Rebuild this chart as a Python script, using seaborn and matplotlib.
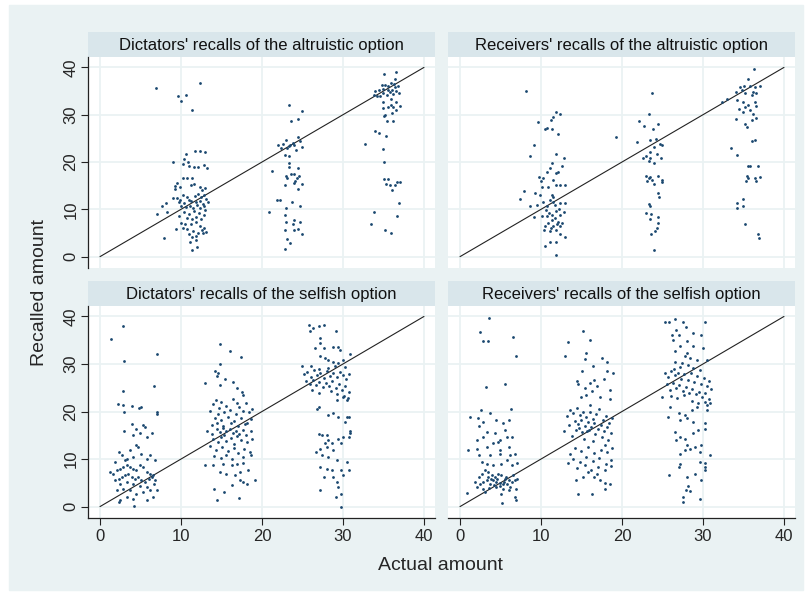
import matplotlib
matplotlib.use("Agg")
import matplotlib.pyplot as plt
from matplotlib.patches import Rectangle
import seaborn as sns
import pandas as pd

# panel titles
titles = [
    "Dictators' recalls of the altruistic option",
    "Receivers' recalls of the altruistic option",
    "Dictators' recalls of the selfish option",
    "Receivers' recalls of the selfish option",
]

# (actual, recalled)
dict_altruistic = [
    (6.9, 35.7), (12.3, 36.8), (9.6, 34.0), (10.6, 34.1), (10.0, 32.9), (11.4, 31.1),
    (11.7, 22.3), (12.4, 22.3), (13.0, 22.1), (10.6, 21.6), (9.0, 20.1), (10.4, 20.6), (10.9, 20.1),
    (10.2, 19.6), (11.6, 19.0), (12.1, 19.0), (11.0, 19.2), (12.8, 19.3), (13.2, 18.8),
    (10.3, 16.6), (10.8, 16.6), (11.3, 16.6), (9.5, 15.5), (9.9, 14.8), (11.2, 15.2), (11.6, 15.3),
    (12.3, 14.8), (13.0, 14.5), (12.6, 14.0), (9.2, 14.3),
    (9.5, 12.4), (9.9, 12.0), (10.2, 13.0), (10.7, 12.6), (11.2, 11.8), (11.7, 12.9), (12.1, 13.3),
    (12.5, 12.7), (12.9, 13.1), (13.1, 12.2), (12.3, 11.7), (11.8, 11.5), (10.4, 11.3), (9.7, 11.6),
    (11.0, 12.0), (12.7, 11.2), (13.3, 11.6),
    (10.0, 10.6), (10.6, 10.4), (11.1, 10.8), (11.5, 10.2), (12.0, 10.9), (12.4, 10.3), (12.9, 10.6),
    (10.4, 9.4), (11.0, 9.0), (11.6, 9.7), (12.2, 9.2), (12.8, 8.8), (10.8, 8.2), (11.9, 8.4),
    (12.5, 8.0), (9.8, 8.6), (11.3, 7.9), (13.0, 9.8),
    (10.0, 7.2), (10.5, 7.0), (11.2, 6.8), (11.8, 7.3), (12.4, 6.5), (12.9, 6.1), (10.7, 5.9),
    (11.5, 5.5), (12.1, 5.0), (12.6, 5.6), (9.4, 5.9), (10.2, 6.0), (11.0, 4.8), (11.9, 4.4),
    (12.7, 4.9), (13.1, 5.3), (11.4, 4.2),
    (11.1, 3.2), (11.4, 1.3), (12.0, 2.1), (11.8, 3.6), (7.9, 3.9),
    (7.0, 9.0), (7.6, 10.6), (8.2, 11.3), (8.3, 9.5), (9.0, 12.5), (9.3, 14.9),
    (23.3, 32.1), (24.9, 30.7), (23.6, 28.6), (24.5, 29.0),
    (22.0, 23.6), (22.6, 23.8), (23.0, 24.6), (23.3, 23.3), (23.8, 24.1), (24.4, 25.2), (24.9, 23.2),
    (24.0, 23.6), (24.2, 22.5), (23.3, 21.3), (22.9, 21.5), (23.5, 23.5), (23.1, 22.9), (24.7, 24.5),
    (22.4, 23.0),
    (23.3, 19.7), (23.3, 19.0), (24.5, 18.7), (23.6, 17.5), (23.9, 17.5), (23.1, 16.6), (24.3, 16.6),
    (24.6, 17.0), (22.9, 15.1), (23.9, 15.5), (24.4, 14.3), (25.0, 15.4), (21.2, 18.0), (23.0, 17.0),
    (24.1, 16.0),
    (21.9, 11.9), (22.2, 11.9), (23.7, 11.6), (23.0, 10.2), (24.7, 10.6),
    (20.9, 9.4), (22.8, 8.8), (23.9, 7.8), (23.0, 7.4), (24.7, 7.4), (23.8, 7.0), (24.5, 5.8),
    (22.9, 5.7), (23.9, 5.6), (25.0, 4.8), (23.1, 3.8), (23.5, 2.8), (22.9, 1.6),
    (35.1, 38.6), (36.6, 39.0), (36.4, 37.6),
    (33.9, 35.0), (34.4, 35.3), (34.9, 35.5), (35.2, 36.2), (35.6, 36.0), (36.0, 35.2), (36.4, 35.8),
    (36.8, 36.0), (35.0, 34.6), (35.4, 34.2), (35.8, 34.8), (36.2, 34.3), (36.6, 35.1), (34.6, 33.9),
    (35.9, 33.4), (36.9, 34.6), (34.2, 34.0), (35.5, 35.3), (36.3, 36.5), (34.8, 36.3), (35.9, 36.8),
    (33.8, 34.2),
    (35.0, 32.7), (35.6, 31.6), (36.2, 31.6), (36.6, 32.6), (35.2, 30.0), (36.0, 30.4), (37.0, 31.9),
    (36.5, 31.0), (35.1, 29.8), (35.9, 32.0), (34.9, 31.4),
    (35.4, 28.6), (36.2, 28.6), (34.0, 26.6), (34.5, 26.1), (35.3, 25.5), (32.7, 23.8), (35.0, 22.7),
    (35.1, 20.1),
    (35.1, 16.4), (35.6, 16.4), (35.3, 15.3), (35.8, 15.1), (36.4, 15.1), (36.7, 15.8), (37.0, 15.8),
    (36.0, 14.0),
    (36.9, 11.3), (33.8, 9.5), (36.7, 8.6), (33.4, 6.9), (35.2, 5.7), (35.9, 5.1),
]

recv_altruistic = [
    (8.1, 35.1), (23.7, 34.5), (19.2, 25.2), (36.3, 39.6), (35.6, 37.6),
    (11.9, 30.5), (12.3, 30.1), (11.5, 29.5), (11.2, 28.8), (9.6, 28.5), (10.5, 26.9), (10.8, 27.2),
    (11.3, 27.0), (12.1, 26.0), (9.1, 23.6), (8.6, 21.3), (11.9, 21.8), (12.8, 20.9),
    (11.3, 19.7), (12.6, 19.2), (11.1, 18.7), (10.7, 17.8), (11.9, 17.6), (12.1, 17.8), (9.8, 16.9),
    (10.3, 16.6), (11.5, 16.2), (10.0, 15.9),
    (11.9, 15.2), (12.3, 15.2), (10.9, 14.8), (13.0, 15.2), (10.1, 14.8), (9.3, 13.4), (9.9, 13.1),
    (11.3, 13.1), (11.5, 12.7), (7.9, 13.8), (7.4, 12.1), (8.7, 10.7), (9.5, 11.0), (10.3, 11.6),
    (11.1, 12.0), (11.5, 11.6), (10.7, 10.6), (11.7, 10.9), (12.3, 11.3), (13.0, 11.3), (12.8, 9.5),
    (9.1, 8.4), (10.7, 8.5), (11.3, 7.8), (11.7, 8.1), (12.1, 7.4), (10.9, 7.1), (10.5, 6.4),
    (11.5, 6.4), (11.9, 5.7), (11.1, 5.5), (10.4, 5.7), (12.3, 6.4), (12.4, 4.8), (13.0, 4.1),
    (11.9, 3.2), (11.1, 3.1), (10.5, 2.3), (11.9, 0.4), (12.3, 8.8), (10.1, 8.5), (12.6, 7.1),
    (11.0, 9.2), (11.8, 9.6), (12.2, 10.0), (10.6, 9.8), (11.4, 8.9), (12.0, 6.9), (11.2, 6.0),
    (23.3, 30.2), (22.1, 28.6), (22.7, 27.6), (24.5, 28.1), (23.8, 27.0), (21.8, 24.3), (23.4, 24.6),
    (24.2, 24.8), (24.7, 23.8), (24.9, 23.6), (23.9, 23.1), (23.5, 22.2), (23.0, 21.3), (24.3, 21.8),
    (24.8, 20.9), (23.3, 20.3), (23.9, 19.7), (23.5, 20.8), (22.6, 20.9),
    (23.0, 17.1), (23.5, 16.9), (24.5, 17.1), (23.3, 16.6), (23.7, 16.2), (24.9, 16.2), (25.0, 15.7),
    (23.1, 15.9), (23.9, 15.4),
    (24.5, 13.4), (24.6, 12.7), (23.3, 11.2), (23.5, 10.8), (23.0, 9.3), (23.6, 9.1), (23.5, 8.0),
    (24.5, 8.4), (24.5, 7.2), (24.3, 6.0), (24.1, 5.5), (23.6, 4.7), (24.0, 1.5),
    (35.1, 36.0), (35.8, 36.0), (36.4, 35.9), (37.0, 36.0), (34.6, 35.9), (34.1, 34.8), (34.8, 35.2),
    (36.2, 34.8), (36.6, 34.5), (35.2, 34.5), (36.0, 34.1), (33.0, 33.4), (32.3, 32.7), (34.2, 33.1),
    (35.0, 32.7), (35.6, 32.0), (36.4, 32.7), (36.6, 31.8), (35.2, 31.6), (34.4, 31.3), (35.8, 30.9),
    (35.0, 30.6), (36.2, 30.2), (34.1, 29.2), (36.6, 29.3), (35.2, 28.1), (35.4, 27.4), (36.0, 28.8),
    (33.4, 22.9), (34.2, 21.5), (36.1, 24.5), (36.4, 24.6), (35.6, 19.2), (35.8, 19.2), (36.8, 19.2),
    (35.4, 17.1), (35.6, 16.6), (35.3, 15.9), (36.4, 16.6), (37.0, 16.8), (36.6, 15.9),
    (34.2, 11.3), (34.2, 10.2), (35.0, 12.2), (35.0, 10.8), (35.2, 6.9), (36.8, 4.8), (36.9, 3.9),
]

dict_selfish = [
    (1.3, 35.3), (2.9, 38.0), (3.0, 30.7), (7.0, 32.2), (6.7, 25.4), (2.9, 24.3), (2.2, 21.6),
    (2.9, 21.4), (3.0, 19.8), (4.0, 21.2), (4.8, 20.7), (5.1, 21.0), (7.0, 19.8), (7.0, 19.5),
    (3.9, 17.4), (5.3, 17.1), (5.6, 16.8), (4.5, 16.4), (3.0, 15.9), (6.4, 15.4), (4.9, 15.4),
    (4.1, 15.0), (5.8, 14.7),
    (2.3, 11.5), (2.7, 10.8), (3.7, 11.9), (4.5, 12.9), (4.7, 12.6), (3.1, 9.7), (4.1, 10.4),
    (5.1, 11.1), (5.8, 10.1), (6.2, 10.8), (6.8, 9.7), (1.9, 9.4), (3.3, 10.1),
    (1.2, 7.3), (1.6, 6.9), (2.1, 7.6), (2.5, 8.0), (2.9, 8.3), (3.3, 8.7), (3.7, 8.3), (4.1, 8.0),
    (4.5, 7.6), (4.9, 8.7), (5.3, 8.3), (5.8, 7.3), (6.2, 6.9), (6.6, 6.6), (1.9, 5.5), (2.3, 5.9),
    (2.7, 6.2), (3.1, 6.6), (3.5, 6.9), (3.9, 6.2), (4.3, 5.9), (4.7, 6.2), (5.1, 5.5), (5.6, 5.1),
    (6.0, 5.9), (6.4, 6.2), (6.8, 5.5), (2.5, 4.8), (3.3, 5.1), (4.1, 4.7), (4.9, 4.4), (5.8, 4.1),
    (6.7, 4.8),
    (2.1, 3.4), (2.9, 3.7), (3.7, 3.4), (4.5, 2.7), (5.3, 3.0), (6.2, 3.4), (7.0, 3.5), (2.5, 1.3),
    (3.3, 2.0), (4.1, 1.6), (5.8, 1.3), (6.6, 2.0), (4.2, 0.1), (2.4, 0.9),
    (14.8, 34.2), (16.0, 32.7), (17.4, 31.5), (14.8, 29.9), (14.2, 28.6), (14.6, 28.1), (14.4, 27.5),
    (13.0, 26.1), (15.4, 26.8), (14.8, 25.6), (16.4, 26.2), (16.9, 24.9), (17.5, 24.2), (17.7, 23.5),
    (13.6, 20.1), (14.0, 21.5), (14.3, 22.4), (14.7, 20.8), (15.0, 22.0), (15.3, 19.8), (15.6, 21.2),
    (16.0, 20.3), (16.4, 22.6), (16.8, 19.5), (17.2, 21.0), (17.6, 20.2), (18.0, 21.8), (18.4, 19.9),
    (18.8, 20.6), (14.2, 18.6), (15.0, 18.2), (15.8, 18.9), (16.6, 18.0), (17.4, 18.7), (18.2, 17.6),
    (13.8, 17.2), (15.2, 17.0), (16.2, 17.5), (17.0, 16.9), (18.6, 18.4), (14.6, 19.4), (16.9, 21.8),
    (13.2, 16.0), (13.8, 15.2), (14.4, 16.3), (14.8, 15.6), (15.2, 16.6), (15.6, 15.8), (16.0, 16.4),
    (16.4, 15.5), (16.8, 16.0), (17.2, 15.2), (17.6, 16.2), (18.0, 15.0), (18.6, 15.8), (14.0, 14.2),
    (14.6, 13.6), (15.0, 14.6), (15.5, 13.8), (16.2, 14.4), (16.6, 13.2), (17.4, 14.0), (18.2, 13.5),
    (18.8, 14.3), (13.6, 12.8), (14.3, 12.0), (15.1, 12.5), (15.8, 11.6), (16.5, 12.3), (17.1, 11.2),
    (17.8, 12.1), (18.5, 11.5), (14.1, 10.6), (14.9, 10.2), (15.6, 10.9), (16.3, 10.0), (17.6, 10.4),
    (18.7, 10.8), (15.3, 15.1), (16.9, 14.8), (14.5, 17.6), (17.9, 17.3),
    (13.0, 8.7), (14.0, 8.7), (15.2, 9.0), (16.3, 8.7), (16.9, 9.0), (17.7, 9.2), (14.8, 7.3),
    (15.6, 6.9), (16.7, 6.6), (17.3, 7.3), (18.3, 7.6), (14.1, 3.6), (14.4, 1.4), (15.3, 3.0),
    (16.3, 4.5), (17.2, 1.9), (17.7, 5.1), (18.1, 4.8), (19.1, 5.6), (17.3, 5.6),
    (25.8, 38.2), (26.3, 37.6), (27.0, 38.0), (27.7, 38.3), (29.1, 37.0), (25.9, 36.9), (27.2, 35.5),
    (27.2, 34.4), (26.6, 33.3), (27.6, 33.4), (28.8, 33.6), (29.4, 33.6), (29.6, 33.0), (30.9, 32.2),
    (27.2, 31.6), (27.8, 31.3), (28.2, 30.9), (28.8, 30.5), (29.4, 30.2), (30.0, 30.9), (30.2, 29.3),
    (24.9, 29.6),
    (25.2, 27.8), (25.6, 28.4), (26.0, 27.2), (26.4, 28.8), (26.8, 27.6), (27.2, 28.2), (27.6, 27.0),
    (28.0, 28.6), (28.4, 27.4), (28.8, 28.0), (29.2, 27.2), (29.6, 28.4), (30.0, 27.6), (30.4, 26.8),
    (30.8, 27.9), (25.4, 26.4), (25.9, 25.8), (26.3, 26.6), (26.7, 25.5), (27.1, 26.2), (27.5, 25.1),
    (27.9, 26.0), (28.3, 25.4), (28.7, 26.4), (29.1, 25.0), (29.5, 25.8), (29.9, 24.6), (30.3, 25.3),
    (30.7, 24.1), (26.2, 24.5), (27.0, 24.0), (28.5, 24.3), (29.3, 23.6), (30.1, 23.2), (30.6, 22.8),
    (28.1, 29.2), (27.0, 29.0), (26.1, 29.6), (29.0, 29.5),
    (27.0, 21.0), (26.8, 20.5), (28.2, 19.3), (28.8, 19.6), (29.4, 18.9), (30.5, 18.9), (30.7, 18.8),
    (30.2, 17.8), (29.2, 22.4), (30.0, 23.1), (30.5, 22.4),
    (27.1, 15.2), (27.4, 15.0), (28.0, 15.0), (28.2, 14.0), (27.8, 13.3), (28.6, 13.3), (29.4, 14.3),
    (30.0, 14.7), (30.7, 14.7), (30.9, 15.9), (30.9, 15.4), (27.2, 12.2), (28.0, 12.6), (28.8, 11.9),
    (29.8, 13.3),
    (26.7, 11.5), (27.4, 10.8), (28.2, 10.4), (29.2, 9.7), (30.5, 9.4), (27.2, 8.3), (28.0, 8.0),
    (28.6, 7.6), (29.8, 7.6), (30.7, 7.8), (27.6, 6.2), (28.8, 6.2), (30.0, 6.6),
    (27.2, 3.5), (29.2, 5.1), (29.4, 4.1), (29.1, 2.1), (29.7, 2.7), (29.8, 0.0),
]

recv_selfish = [
    (3.6, 39.7), (2.5, 36.8), (2.8, 34.8), (3.5, 34.8), (6.6, 35.6), (6.9, 31.6), (3.2, 25.2),
    (5.5, 25.7), (1.2, 18.9),
    (2.6, 20.3), (3.7, 19.6), (6.3, 20.5), (2.2, 18.6), (2.9, 17.8), (4.5, 18.2), (5.3, 17.5),
    (6.0, 18.3), (2.3, 16.9), (3.3, 15.7), (4.3, 15.4), (5.6, 16.1), (5.8, 14.7), (2.9, 14.7),
    (4.1, 13.3), (4.7, 13.6), (4.9, 14.0), (6.4, 14.7), (2.1, 14.0), (1.0, 12.0), (2.1, 12.2),
    (3.3, 12.6), (4.9, 11.9), (6.0, 12.6), (2.3, 10.8), (3.7, 10.8), (4.9, 11.1), (6.2, 10.8),
    (6.8, 11.1), (7.1, 9.2), (2.7, 9.4), (3.3, 8.9), (4.1, 8.7), (5.1, 9.0), (5.8, 9.7), (6.4, 8.7),
    (1.9, 5.1), (2.3, 6.2), (2.7, 6.9), (3.1, 7.6), (3.5, 7.3), (3.9, 6.6), (4.3, 6.2), (4.7, 6.9),
    (5.1, 6.6), (5.6, 5.9), (6.0, 5.5), (6.4, 5.1), (6.8, 5.6), (7.1, 5.9), (2.1, 4.1), (2.5, 4.7),
    (2.9, 5.1), (3.3, 5.5), (3.7, 4.8), (4.1, 5.5), (4.5, 5.1), (4.9, 4.9), (5.3, 4.7), (5.8, 4.8),
    (6.2, 4.2), (2.8, 3.7), (3.6, 4.0), (4.4, 4.2), (5.3, 3.7), (6.1, 3.4), (6.9, 3.7), (3.1, 3.0),
    (5.1, 2.7), (6.8, 2.0), (6.9, 1.3), (5.2, 0.7), (0.9, 2.9),
    (4.6, 5.8), (5.4, 5.2), (3.8, 5.9), (5.0, 4.3), (4.2, 4.6), (5.7, 6.3), (3.4, 6.2), (6.5, 6.6),
    (15.2, 37.0), (13.3, 34.6), (16.0, 35.0), (13.0, 31.6), (15.5, 32.3), (15.4, 31.0), (17.5, 31.3),
    (18.1, 30.5), (16.4, 29.6), (15.1, 28.6), (18.1, 28.6), (18.9, 28.2), (17.8, 26.8), (16.5, 26.7),
    (16.0, 26.1), (14.4, 26.5), (14.6, 25.8), (16.9, 25.4), (15.4, 25.0), (16.3, 24.3), (18.5, 24.6),
    (15.0, 23.1), (15.6, 23.4), (17.3, 23.1), (18.5, 22.7),
    (13.6, 20.4), (14.0, 19.6), (14.4, 20.8), (14.8, 19.2), (15.2, 20.0), (15.6, 18.8), (16.0, 19.8),
    (16.4, 18.4), (16.8, 19.4), (17.2, 20.6), (17.6, 18.2), (18.0, 19.0), (18.4, 17.6), (18.8, 18.6),
    (14.2, 18.0), (14.6, 17.4), (15.0, 18.2), (15.4, 17.0), (15.8, 17.8), (16.2, 16.8), (16.6, 17.6),
    (17.0, 16.4), (17.4, 17.2), (17.8, 16.0), (18.2, 16.8), (18.6, 15.4), (13.4, 17.2), (14.3, 16.2),
    (15.1, 15.6), (15.9, 16.2), (16.7, 15.2), (17.5, 14.6), (18.3, 14.0), (13.8, 14.8), (15.3, 14.2),
    (16.4, 13.8), (17.9, 13.0), (14.7, 16.6), (15.7, 16.0), (13.2, 19.0), (12.9, 15.8), (16.1, 21.4),
    (14.2, 12.4), (15.0, 11.6), (15.8, 12.6), (16.6, 11.2), (17.4, 12.0), (18.2, 11.4), (18.8, 12.3),
    (14.0, 10.0), (14.8, 9.4), (15.6, 10.4), (16.4, 9.6), (17.2, 10.2), (18.0, 9.0), (18.7, 9.8),
    (14.5, 8.2), (15.4, 8.8), (16.2, 7.8), (17.0, 8.4), (17.9, 7.6), (18.7, 8.5), (13.6, 11.0),
    (13.3, 9.1),
    (14.6, 2.7), (16.3, 2.6), (14.3, 5.6), (15.2, 6.2), (16.5, 6.2), (17.3, 5.5), (17.9, 4.9),
    (18.5, 4.7), (17.9, 3.7), (16.9, 6.9), (15.8, 7.3),
    (25.3, 38.8), (25.8, 38.8), (26.5, 39.4), (27.5, 38.8), (30.3, 38.9), (27.9, 37.8), (26.7, 37.2),
    (26.2, 36.2), (27.1, 36.2), (28.8, 36.5), (29.8, 36.2), (26.3, 35.1), (28.0, 34.8), (27.2, 33.7),
    (28.8, 33.7), (30.0, 33.4), (26.5, 32.7), (28.0, 32.3), (27.8, 31.7), (28.4, 31.3), (29.2, 30.9),
    (30.5, 30.9), (26.5, 30.5), (27.4, 30.2), (28.2, 29.8),
    (25.3, 28.0), (25.7, 27.2), (26.1, 28.6), (26.5, 27.6), (26.9, 28.2), (27.3, 26.8), (27.7, 27.8),
    (28.1, 26.6), (28.5, 28.0), (28.9, 26.2), (29.3, 27.4), (29.7, 25.8), (30.1, 27.0), (30.5, 25.4),
    (30.8, 26.4), (25.5, 25.8), (25.9, 24.6), (26.3, 26.0), (26.7, 25.0), (27.1, 25.6), (27.5, 24.4),
    (27.9, 25.2), (28.3, 23.8), (28.7, 24.8), (29.1, 23.6), (29.5, 24.2), (29.9, 23.0), (30.3, 23.8),
    (30.7, 22.6), (26.0, 23.2), (26.8, 22.8), (27.6, 23.4), (28.6, 22.2), (29.4, 21.8), (30.2, 22.0),
    (31.0, 24.8), (26.4, 29.0), (28.8, 29.2), (27.2, 29.4), (29.6, 28.8),
    (24.9, 23.1), (25.9, 21.0), (27.0, 19.6), (27.8, 19.3), (28.6, 20.3), (29.2, 21.0), (30.5, 21.4),
    (30.9, 21.7), (25.7, 18.9), (27.2, 18.2), (28.0, 18.6), (28.8, 17.8), (30.2, 17.5), (30.5, 20.3),
    (26.5, 15.7), (27.2, 14.7), (27.8, 14.3), (28.8, 15.4), (29.4, 16.1), (30.2, 16.4), (26.7, 14.0),
    (28.0, 12.9), (29.0, 12.6), (29.8, 12.9), (27.2, 11.1), (27.8, 11.9), (28.4, 12.2), (29.6, 11.5),
    (30.9, 10.8),
    (27.2, 9.0), (29.6, 9.4), (30.2, 9.2), (30.2, 8.3), (30.2, 7.6), (25.8, 6.6), (27.1, 8.3),
    (28.0, 6.2), (29.0, 6.9), (29.8, 5.5), (28.1, 4.4), (27.9, 3.4), (28.4, 3.2), (27.5, 2.0),
    (27.5, 0.9), (29.6, 1.6),
]

panel_data = [dict_altruistic, recv_altruistic, dict_selfish, recv_selfish]
diag = [0, 40]
ticks = [0, 10, 20, 30, 40]

rows = []
for title, pts in zip(titles, panel_data):
    for a, r in pts:
        rows.append({"panel": title, "actual": a, "recalled": r})
df = pd.DataFrame(rows)
line_df = pd.DataFrame({"actual": diag, "recalled": diag})

sns.set_style("white")
plt.rcParams["font.family"] = ["Liberation Sans", "DejaVu Sans"]

BG = "#eaf2f3"
STRIP = "#d9e6eb"
DOT = "#1a476f"

W, H = 811, 593
fig = plt.figure(figsize=(W / 100, H / 100), dpi=100)
fig.patch.set_facecolor("white")
fig.patches.append(Rectangle((9 / W, 1 - 590 / H), (803 - 9) / W, (590 - 5) / H,
                             transform=fig.transFigure, color=BG, zorder=-10))


def rect(x0, y0, x1, y1):
    return [x0 / W, 1 - y1 / H, (x1 - x0) / W, (y1 - y0) / H]


cols = [(88, 435), (448, 795)]
rws = [(32, 57, 268), (281, 306, 518)]

for i, title in enumerate(titles):
    r, c = divmod(i, 2)
    x0, x1 = cols[c]
    ys, yp, yb = rws[r]

    sax = fig.add_axes(rect(x0, ys, x1, yp))
    sax.set_facecolor(STRIP)
    sax.set_xticks([])
    sax.set_yticks([])
    for s in sax.spines.values():
        s.set_visible(False)
    sax.text(0.5, 0.47, title, ha="center", va="center", fontsize=12, color="#111111",
             transform=sax.transAxes)

    ax = fig.add_axes(rect(x0, yp, x1, yb))
    ax.set_facecolor("white")
    sub = df[df["panel"] == title]
    sns.lineplot(data=line_df, x="actual", y="recalled", ax=ax, color="#222222",
                 linewidth=0.8, zorder=2)
    sns.scatterplot(data=sub, x="actual", y="recalled", ax=ax, color=DOT, s=4,
                    linewidth=0, zorder=3)
    ax.set_xlim(-1.48, 41.36)
    ax.set_ylim(-2.4, 42.2)
    ax.set_xticks(ticks)
    ax.set_yticks(ticks)
    ax.grid(True, color=BG, linewidth=1.3)
    ax.set_axisbelow(True)
    ax.set_xlabel("")
    ax.set_ylabel("")
    for s in ax.spines.values():
        s.set_visible(False)
    if c == 0:
        ax.spines["left"].set_visible(True)
        ax.spines["left"].set_color("#222222")
        ax.spines["left"].set_linewidth(0.9)
        ax.tick_params(axis="y", length=5, width=0.8, color="#222222", labelsize=12,
                       pad=2, labelrotation=90, left=True)
        for lab in ax.get_yticklabels():
            lab.set_verticalalignment("center")
    else:
        ax.tick_params(axis="y", left=False, labelleft=False)
    if r == 1:
        ax.spines["bottom"].set_visible(True)
        ax.spines["bottom"].set_color("#222222")
        ax.spines["bottom"].set_linewidth(0.9)
        ax.tick_params(axis="x", length=5, width=0.8, color="#222222", labelsize=12,
                       pad=3, bottom=True)
    else:
        ax.tick_params(axis="x", bottom=False, labelbottom=False)

fig.text(40 / W, 1 - 292 / H, "Recalled amount", rotation=90, ha="center", va="center",
         fontsize=14)
fig.text(441 / W, 1 - 565 / H, "Actual amount", ha="center", va="center", fontsize=14)

fig.savefig("out.png", dpi=100, facecolor="white")
